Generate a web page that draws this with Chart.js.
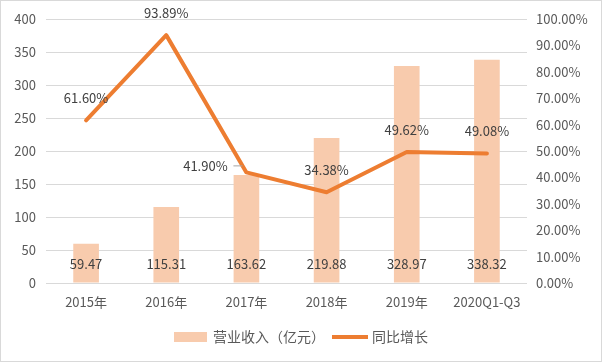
<!DOCTYPE html>
<html>
<head>
<meta charset="utf-8">
<script src="https://cdn.jsdelivr.net/npm/chart.js@4/dist/chart.umd.min.js"></script>
<style>
  html, body { margin: 0; padding: 0; background: #fff; }
  #wrap { position: relative; width: 600px; height: 360px; border: 1px solid #d9d9d9; }
</style>
</head>
<body>
<div id="wrap"><canvas id="chart" width="600" height="360"></canvas></div>
<script>
  // chart data
  var categories = ['2015年', '2016年', '2017年', '2018年', '2019年', '2020Q1-Q3'];
  var revenue = [59.47, 115.31, 163.62, 219.88, 328.97, 338.32];   // 亿元
  var growth = [61.60, 93.89, 41.90, 34.38, 49.62, 49.08];         // %
  var revenueLabel = '营业收入（亿元）';
  var growthLabel = '同比增长';

  var BAR_COLOR = '#F8CBAD';
  var LINE_COLOR = '#ED7D31';
  var TEXT_COLOR = '#595959';
  var GRID_COLOR = '#D9D9D9';
  var FONT = "'Noto Sans CJK SC', 'Noto Sans', sans-serif";

  Chart.defaults.font.family = FONT;
  Chart.defaults.font.size = 13;
  Chart.defaults.color = TEXT_COLOR;

  // value labels + legend drawn by hand
  var labelPlugin = {
    id: 'valueLabels',
    afterDatasetsDraw: function (chart) {
      var ctx = chart.ctx;
      ctx.save();
      ctx.font = '13px ' + FONT;
      ctx.fillStyle = '#404040';
      ctx.textAlign = 'center';
      ctx.textBaseline = 'middle';

      var barMeta = chart.getDatasetMeta(1);
      var base = chart.scales.y.getPixelForValue(0);
      barMeta.data.forEach(function (bar, i) {
        ctx.fillText(revenue[i].toFixed(2), bar.x, base - 19);
      });

      var lineMeta = chart.getDatasetMeta(0);
      lineMeta.data.forEach(function (pt, i) {
        var txt = growth[i].toFixed(2) + '%';
        if (i === 2) {
          // label pushed to the left with a small leader line
          ctx.fillText(txt, pt.x - 41, pt.y - 6);
          ctx.strokeStyle = '#A6A6A6';
          ctx.lineWidth = 1;
          ctx.beginPath();
          ctx.moveTo(pt.x - 13, pt.y - 6.5);
          ctx.lineTo(pt.x - 4, pt.y - 6.5);
          ctx.stroke();
        } else {
          ctx.fillText(txt, pt.x, pt.y - 22);
        }
      });
      ctx.restore();
    },
    afterDraw: function (chart) {
      var ctx = chart.ctx;
      ctx.save();
      ctx.font = '14px ' + FONT;
      ctx.textBaseline = 'middle';
      ctx.fillStyle = TEXT_COLOR;
      var w1 = ctx.measureText(revenueLabel).width;
      var w2 = ctx.measureText(growthLabel).width;
      var total = 33 + 6 + w1 + 7 + 36 + 4 + w2;
      var x = chart.width / 2 - total / 2;
      var y = 336;
      ctx.fillStyle = BAR_COLOR;
      ctx.fillRect(x, y - 5, 33, 10);
      x += 39;
      ctx.fillStyle = TEXT_COLOR;
      ctx.fillText(revenueLabel, x, y);
      x += w1 + 7;
      ctx.strokeStyle = LINE_COLOR;
      ctx.lineWidth = 4;
      ctx.beginPath();
      ctx.moveTo(x, y);
      ctx.lineTo(x + 36, y);
      ctx.stroke();
      x += 40;
      ctx.fillText(growthLabel, x, y);
      ctx.restore();
    }
  };

  new Chart(document.getElementById('chart').getContext('2d'), {
    type: 'bar',
    data: {
      labels: categories,
      datasets: [{
        type: 'line',
        label: growthLabel,
        data: growth,
        yAxisID: 'y1',
        borderColor: LINE_COLOR,
        borderWidth: 4,
        pointRadius: 0,
        tension: 0,
        borderJoinStyle: 'round',
        borderCapStyle: 'round',
        order: 0
      }, {
        type: 'bar',
        label: revenueLabel,
        data: revenue,
        yAxisID: 'y',
        backgroundColor: BAR_COLOR,
        categoryPercentage: 1,
        barPercentage: 0.32,
        order: 1
      }]
    },
    options: {
      responsive: false,
      animation: false,
      layout: { padding: { top: 18, bottom: 42, left: 0, right: 0 } },
      plugins: {
        legend: { display: false },
        tooltip: { enabled: false }
      },
      scales: {
        x: {
          grid: { display: false },
          border: { display: false },
          ticks: { padding: 3, color: TEXT_COLOR },
          afterFit: function (s) { s.height = 36; }
        },
        y: {
          position: 'left',
          min: 0,
          max: 400,
          ticks: { stepSize: 50, padding: 10, color: TEXT_COLOR },
          grid: { color: GRID_COLOR, drawTicks: false },
          border: { display: false },
          afterFit: function (s) { s.width = 45; }
        },
        y1: {
          position: 'right',
          min: 0,
          max: 100,
          ticks: {
            stepSize: 10,
            padding: 9,
            color: TEXT_COLOR,
            callback: function (v) { return v.toFixed(2) + '%'; }
          },
          grid: { display: false, drawTicks: false },
          border: { display: false },
          afterFit: function (s) { s.width = 74; }
        }
      }
    },
    plugins: [labelPlugin]
  });
</script>
</body>
</html>
